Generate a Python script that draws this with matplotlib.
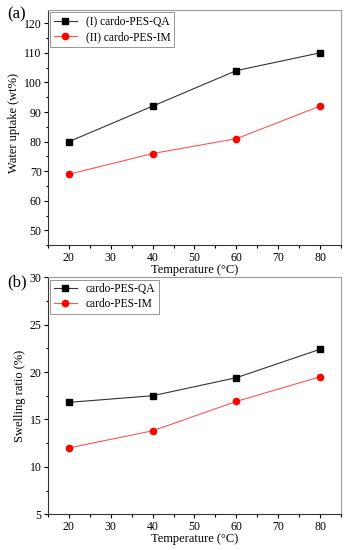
import matplotlib
matplotlib.use('Agg')
import matplotlib.pyplot as plt
from matplotlib.ticker import MultipleLocator

temp = [20, 40, 60, 80]
uptake_qa = [80, 92, 104, 110]
uptake_im = [69, 76, 81, 92]
swell_qa = [16.8, 17.5, 19.4, 22.4]
swell_im = [12.0, 13.8, 16.9, 19.5]

plt.rcParams['font.family'] = ['Liberation Serif', 'DejaVu Serif']


def style_axis(ax, ymajor):
    ax.set_xlim(15, 85)
    ax.xaxis.set_major_locator(MultipleLocator(10))
    ax.xaxis.set_minor_locator(MultipleLocator(5))
    ax.yaxis.set_major_locator(MultipleLocator(ymajor))
    ax.yaxis.set_minor_locator(MultipleLocator(ymajor / 2))
    ax.tick_params(which='both', direction='out', labelsize=8.5, width=0.8)
    ax.tick_params(axis='y', pad=1.5)
    ax.tick_params(axis='x', pad=2)
    ax.tick_params(which='major', length=3)
    ax.tick_params(which='minor', length=1.8)
    for s in ax.spines.values():
        s.set_linewidth(0.8)
        s.set_color('#333333')
    ax.spines['top'].set_color('#999999')
    ax.spines['right'].set_color('#999999')
    ax.set_xlabel('Temperature (°C)', fontsize=9, labelpad=0)


fig = plt.figure(figsize=(3.49, 5.5), dpi=100)
ax1 = fig.add_axes([0.1375, 0.554, 0.8395, 0.428])
ax2 = fig.add_axes([0.1375, 0.065, 0.8395, 0.431])

ax1.plot(temp, uptake_qa, color='#333333', lw=0.8, marker='s', ms=4,
         mfc='black', mec='black', label='(I) cardo-PES-QA')
ax1.plot(temp, uptake_im, color='#ff5555', lw=0.8, marker='o', ms=4.5,
         mfc='red', mec='red', label='(II) cardo-PES-IM')
ax1.set_ylim(45, 124.5)
style_axis(ax1, 10)
ax1.set_ylabel('Water uptake (wt%)', fontsize=9, labelpad=1)
ax1.yaxis.set_label_coords(-0.095, 0.52)
ax1.legend(loc='upper left', fontsize=8.3, frameon=True, fancybox=False,
           edgecolor='#666666', borderpad=0.3, handlelength=2,
           labelspacing=0.3, borderaxespad=0.2).get_frame().set_linewidth(0.6)

ax2.plot(temp, swell_qa, color='#333333', lw=0.8, marker='s', ms=4,
         mfc='black', mec='black', label='cardo-PES-QA')
ax2.plot(temp, swell_im, color='#ff5555', lw=0.8, marker='o', ms=4.5,
         mfc='red', mec='red', label='cardo-PES-IM')
ax2.set_ylim(5, 30)
style_axis(ax2, 5)
ax2.set_ylabel('Swelling ratio (%)', fontsize=9, labelpad=3)
ax2.legend(loc='upper left', fontsize=8.3, frameon=True, fancybox=False,
           edgecolor='#666666', borderpad=0.3, handlelength=2,
           labelspacing=0.3, borderaxespad=0.2).get_frame().set_linewidth(0.6)

fig.text(0.02, 0.973, '(a)', fontsize=12, va='center', ha='left')
fig.text(0.02, 0.487, '(b)', fontsize=12, va='center', ha='left')

fig.savefig('out.png', dpi=100)
